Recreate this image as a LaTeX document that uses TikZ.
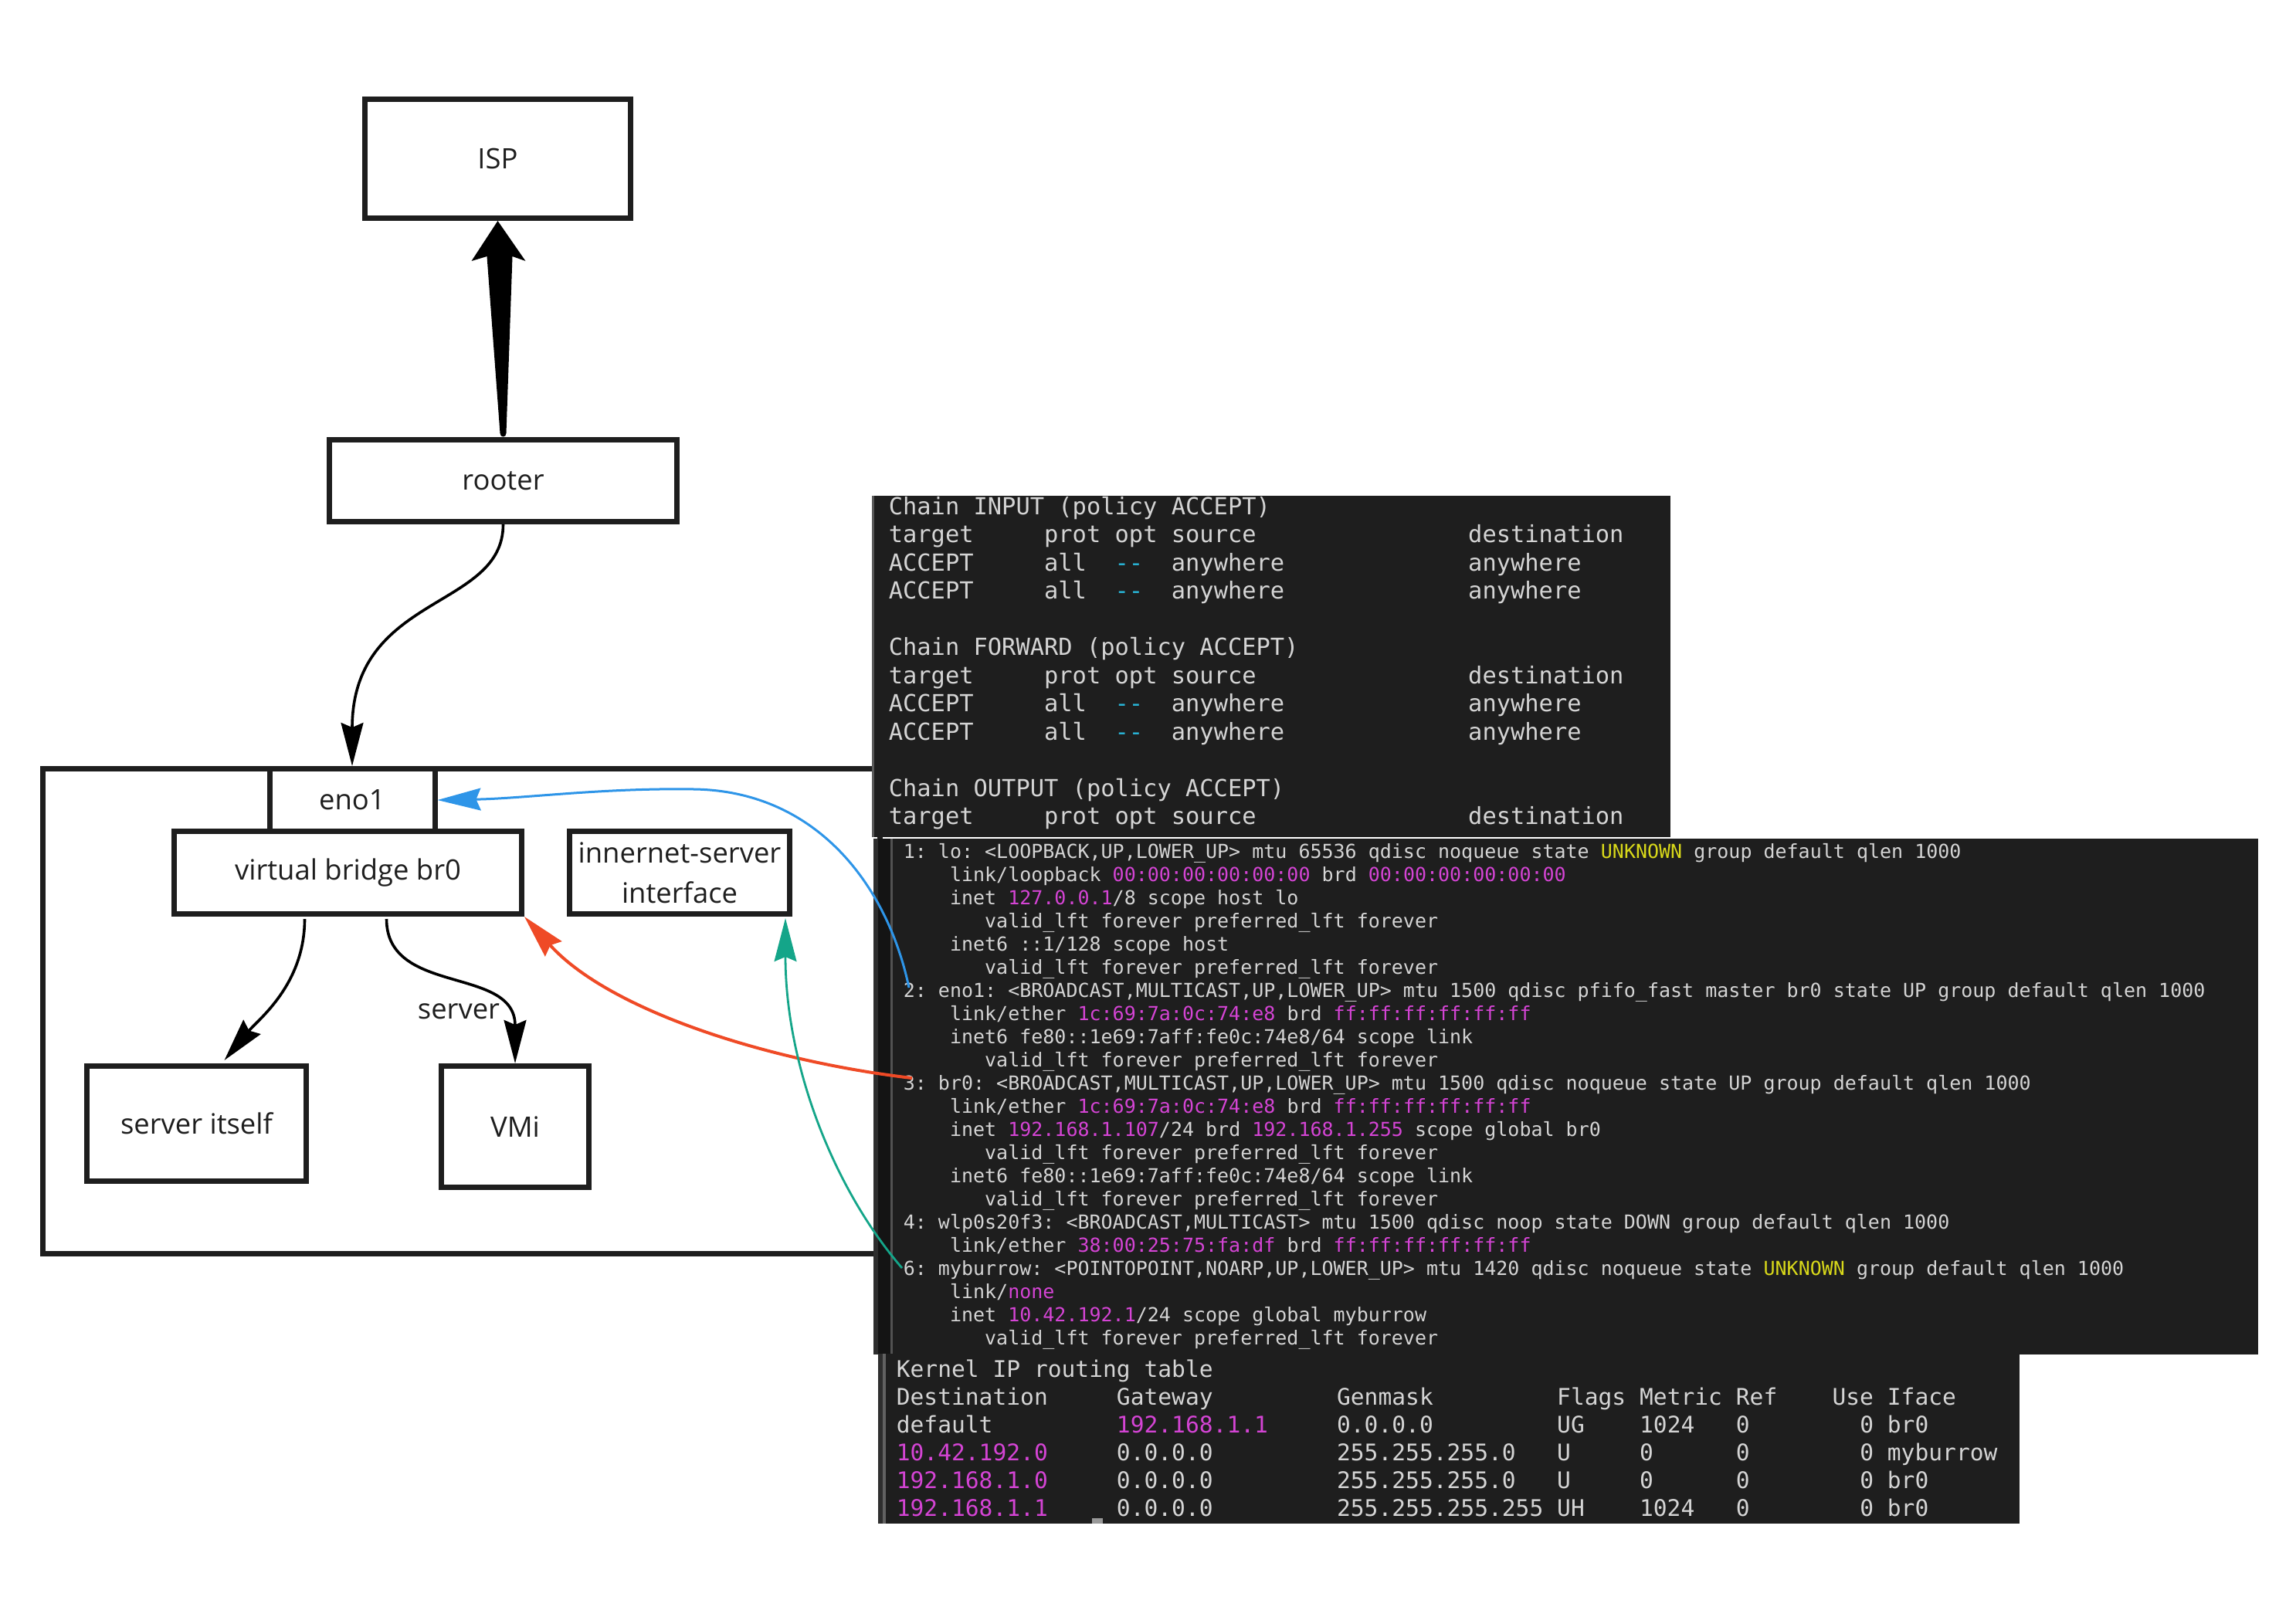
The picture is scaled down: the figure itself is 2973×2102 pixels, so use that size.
\documentclass[tikz,border=0pt]{standalone}
\usepackage{fontspec}
\usetikzlibrary{arrows.meta,calc}
\newfontfamily\labfont{Open Sans}
\newfontfamily\termfont{DejaVu Sans Mono}
\definecolor{tbg}{HTML}{1E1E1E}
\definecolor{ttx}{HTML}{D4D4D4}
\definecolor{tmg}{HTML}{D444D4}
\definecolor{tyl}{HTML}{D8D81A}
\definecolor{tcy}{HTML}{29B8DB}
\definecolor{ink}{HTML}{1E1E1E}
\definecolor{ablue}{HTML}{2E95E8}
\definecolor{ared}{HTML}{EF4A26}
\definecolor{agreen}{HTML}{14A589}
\newcommand\cmg[1]{\textcolor{tmg}{#1}}
\newcommand\cyl[1]{\textcolor{tyl}{#1}}
\newcommand\ccy[1]{\textcolor{tcy}{#1}}
\tikzset{
  lab/.style={font={\fontsize{9.1}{13}\selectfont\labfont}, text=ink},
  box/.style={lab, draw=ink, line width=1.75pt, fill=white, inner sep=0pt},
  tl/.style={anchor=base west, inner sep=0pt, text=ttx},
  ta/.style={tl, font={\fontsize{7.6}{9}\selectfont\termfont\frenchspacing}},
  tb/.style={tl, font={\fontsize{6.25}{7.5}\selectfont\termfont\frenchspacing}},
  tc/.style={tl, font={\fontsize{7.4}{9}\selectfont\termfont\frenchspacing}},
  arr/.style={-{Stealth[length=14pt,width=7.2pt,inset=1.5pt]}},
}
\begin{document}
\begin{tikzpicture}[x=0.25pt, y=-0.25pt]
\useasboundingbox (0,0) rectangle (2973,2102);
\fill[white] (0,0) rectangle (2973,2102);

% diagram boxes
\node[box, fill=none, minimum width=271.1pt, minimum height=157pt] (host) at (597.75,1309.5) {};
\node[box, minimum width=86pt, minimum height=38.5pt] (isp) at (644.5,205.5) {ISP};
\node[box, minimum width=112.5pt, minimum height=26.5pt] (rooter) at (651.5,622.5) {rooter};
\node[box, minimum width=53.5pt, minimum height=20.25pt] (eno1) at (456,1036) {eno1};
\node[box, minimum width=112.5pt, minimum height=26.75pt] (br0) at (450.5,1130) {virtual bridge br0};
\node[box, align=center, minimum width=71.25pt, minimum height=26.75pt] (inet) at (880,1130) {innernet-server\\interface};
\node[box, minimum width=71pt, minimum height=37.25pt] (srv) at (254.5,1455) {server itself};
\node[box, minimum width=47.75pt, minimum height=39.25pt] (vmi) at (667,1459) {VMi};

% terminal 1 (iptables)
\fill[tbg] (1129,642) rectangle (2163,1084);
\fill[black!65] (1129,642) rectangle (1132,1084);
\node[ta] (a1) at (1150,666) {Chain INPUT (policy ACCEPT)};
\node[ta] (a2) at (1150,702.5) {target~~~~~prot opt source~~~~~~~~~~~~~~~destination};
\node[ta] (a3) at (1150,739) {ACCEPT~~~~~all~~\ccy{-{}-}~~anywhere~~~~~~~~~~~~~anywhere};
\node[ta] (a4) at (1150,775.5) {ACCEPT~~~~~all~~\ccy{-{}-}~~anywhere~~~~~~~~~~~~~anywhere};
\node[ta] (a5) at (1150,848.5) {Chain FORWARD (policy ACCEPT)};
\node[ta] (a6) at (1150,885) {target~~~~~prot opt source~~~~~~~~~~~~~~~destination};
\node[ta] (a7) at (1150,921.5) {ACCEPT~~~~~all~~\ccy{-{}-}~~anywhere~~~~~~~~~~~~~anywhere};
\node[ta] (a8) at (1150,958) {ACCEPT~~~~~all~~\ccy{-{}-}~~anywhere~~~~~~~~~~~~~anywhere};
\node[ta] (a9) at (1150,1031) {Chain OUTPUT (policy ACCEPT)};
\node[ta] (a10) at (1150,1067.5) {target~~~~~prot opt source~~~~~~~~~~~~~~~destination};

% terminal 2 (ip a)
\fill[tbg] (1131,1086) rectangle (2924,1754);
\fill[black!82] (1131,1086) rectangle (1137,1754);
\fill[black!92] (1137,1086) rectangle (1153,1754);
\fill[black!68] (1153,1086) rectangle (1156,1754);
\node[tb] (b1) at (1169,1111) {1: lo: <LOOPBACK,UP,LOWER\_UP> mtu 65536 qdisc noqueue state \cyl{UNKNOWN} group default qlen 1000};
\node[tb] (b2) at (1169,1141) {~~~~link/loopback \cmg{00:00:00:00:00:00} brd \cmg{00:00:00:00:00:00}};
\node[tb] (b3) at (1169,1171) {~~~~inet \cmg{127.0.0.1}/8 scope host lo};
\node[tb] (b4) at (1169,1201) {~~~~~~~valid\_lft forever preferred\_lft forever};
\node[tb] (b5) at (1169,1231) {~~~~inet6 ::1/128 scope host};
\node[tb] (b6) at (1169,1261) {~~~~~~~valid\_lft forever preferred\_lft forever};
\node[tb] (b7) at (1169,1291) {2: eno1: <BROADCAST,MULTICAST,UP,LOWER\_UP> mtu 1500 qdisc pfifo\_fast master br0 state UP group default qlen 1000};
\node[tb] (b8) at (1169,1321) {~~~~link/ether \cmg{1c:69:7a:0c:74:e8} brd \cmg{ff:ff:ff:ff:ff:ff}};
\node[tb] (b9) at (1169,1351) {~~~~inet6 fe80::1e69:7aff:fe0c:74e8/64 scope link};
\node[tb] (b10) at (1169,1381) {~~~~~~~valid\_lft forever preferred\_lft forever};
\node[tb] (b11) at (1169,1411) {3: br0: <BROADCAST,MULTICAST,UP,LOWER\_UP> mtu 1500 qdisc noqueue state UP group default qlen 1000};
\node[tb] (b12) at (1169,1441) {~~~~link/ether \cmg{1c:69:7a:0c:74:e8} brd \cmg{ff:ff:ff:ff:ff:ff}};
\node[tb] (b13) at (1169,1471) {~~~~inet \cmg{192.168.1.107}/24 brd \cmg{192.168.1.255} scope global br0};
\node[tb] (b14) at (1169,1501) {~~~~~~~valid\_lft forever preferred\_lft forever};
\node[tb] (b15) at (1169,1531) {~~~~inet6 fe80::1e69:7aff:fe0c:74e8/64 scope link};
\node[tb] (b16) at (1169,1561) {~~~~~~~valid\_lft forever preferred\_lft forever};
\node[tb] (b17) at (1169,1591) {4: wlp0s20f3: <BROADCAST,MULTICAST> mtu 1500 qdisc noop state DOWN group default qlen 1000};
\node[tb] (b18) at (1169,1621) {~~~~link/ether \cmg{38:00:25:75:fa:df} brd \cmg{ff:ff:ff:ff:ff:ff}};
\node[tb] (b19) at (1169,1651) {6: myburrow: <POINTOPOINT,NOARP,UP,LOWER\_UP> mtu 1420 qdisc noqueue state \cyl{UNKNOWN} group default qlen 1000};
\node[tb] (b20) at (1169,1681) {~~~~link/\cmg{none}};
\node[tb] (b21) at (1169,1711) {~~~~inet \cmg{10.42.192.1}/24 scope global myburrow};
\node[tb] (b22) at (1169,1741) {~~~~~~~valid\_lft forever preferred\_lft forever};

% terminal 3 (route)
\fill[tbg] (1137,1753) rectangle (2615,1973);
\fill[black!82] (1137,1753) rectangle (1143,1973);
\fill[black!62] (1143,1753) rectangle (1147,1973);
\fill[black!40] (1414,1966) rectangle (1428,1973);
\node[tc] (c1) at (1160,1783) {Kernel IP routing table};
\node[tc] (c2) at (1160,1819) {Destination~~~~~Gateway~~~~~~~~~Genmask~~~~~~~~~Flags Metric Ref~~~~Use Iface};
\node[tc] (c3) at (1160,1855) {default~~~~~~~~~\cmg{192.168.1.1}~~~~~0.0.0.0~~~~~~~~~UG~~~~1024~~~0~~~~~~~~0 br0};
\node[tc] (c4) at (1160,1891) {\cmg{10.42.192.0}~~~~~0.0.0.0~~~~~~~~~255.255.255.0~~~U~~~~~0~~~~~~0~~~~~~~~0 myburrow};
\node[tc] (c5) at (1160,1927) {\cmg{192.168.1.0}~~~~~0.0.0.0~~~~~~~~~255.255.255.0~~~U~~~~~0~~~~~~0~~~~~~~~0 br0};
\node[tc] (c6) at (1160,1963) {\cmg{192.168.1.1}~~~~~0.0.0.0~~~~~~~~~255.255.255.255 UH~~~~1024~~~0~~~~~~~~0 br0};

% anchor points on terminal lines
\coordinate (p2) at (1177,1279);
\coordinate (p3) at (1181,1396);
\coordinate (p6) at (1168,1642);

% connectors
\fill[black] (isp.south) -- ($(isp.south)+(36,52)$) -- ($(isp.south)+(19,46)$)
  -- ($(rooter.north)+(4,-5)$) .. controls ($(rooter.north)+(4,1)$) and ($(rooter.north)+(-4,1)$) .. ($(rooter.north)+(-4,-5)$)
  -- ($(isp.south)+(-14,46)$) -- ($(isp.south)+(-34,52)$) -- cycle;
\draw[arr, black, line width=0.9pt] (rooter.south) .. controls +(0,111) and +(0,-224) .. (eno1.north);
\draw[arr, black, line width=0.9pt] ($(br0.south)+(-56,3)$) .. controls ($(br0.south)+(-56,88)$) and ($(srv.north)+(80,-57)$) .. ($(srv.north)+(36,-4)$);
\draw[arr, black, line width=0.9pt] ($(br0.south)+(50,3)$) .. controls ($(br0.south)+(50,103)$) and ($(vmi.north)+(0,-127)$) .. (vmi.north);
\node[lab] (srvlbl) at (594,1310) {server};

\draw[arr, ablue, line width=0.75pt] (p2) .. controls (1150,1150) and (1060,1025) .. (900,1022) .. controls (780,1020) and (680,1034) .. (eno1.east);
\draw[arr, ared, line width=1pt] (p3) .. controls (1000,1375) and (790,1310) .. (br0.south east);
\draw[arr, agreen, line width=0.7pt] (p6) .. controls (1080,1540) and (1017,1380) .. ($(inet.south east)+(-9,2)$);
\end{tikzpicture}
\end{document}
